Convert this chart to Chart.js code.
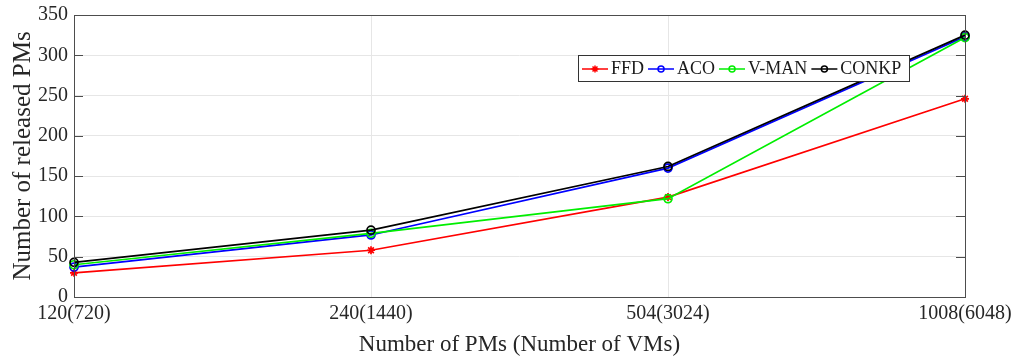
<!DOCTYPE html>
<html><head><meta charset="utf-8">
<script src="https://cdn.jsdelivr.net/npm/chart.js@4"></script>
<style>html,body{margin:0;padding:0;background:#fff;}#wrap{width:1018px;height:356px;}</style>
</head><body><div id="wrap"><canvas id="c" width="1018" height="356"></canvas></div>
<script>
const categories = ['120(720)', '240(1440)', '504(3024)', '1008(6048)'];
const ffd = [30, 58, 124, 246];
const aco = [37, 77, 160, 323];
const vman = [40, 79, 122, 322];
const conkp = [43, 83, 162, 325];
const yTicks = [0, 50, 100, 150, 200, 250, 300, 350];
const seriesNames = ['FFD', 'ACO', 'V-MAN', 'CONKP'];

const FONT = "'Liberation Serif', 'Times New Roman', serif";

const framePlugin = {
  id: 'frame',
  afterDatasetsDraw(chart) {
    const {ctx, chartArea: a} = chart;
    ctx.save();
    ctx.strokeStyle = '#4d4d4d';
    ctx.lineWidth = 1;
    ctx.strokeRect(Math.round(a.left) + 0.5, Math.round(a.top) + 0.5, Math.round(a.right - a.left), Math.round(a.bottom - a.top));
    const y = chart.scales.y;
    yTicks.forEach(v => {
      const py = Math.round(y.getPixelForValue(v)) + 0.5;
      ctx.beginPath();
      ctx.moveTo(a.left, py); ctx.lineTo(a.left + 9, py);
      ctx.moveTo(a.right, py); ctx.lineTo(a.right - 9, py);
      ctx.stroke();
    });
    // legend box
    const bx = 578, by = 55, bw = 331, bh = 26;
    ctx.fillStyle = '#fff';
    ctx.fillRect(bx, by, bw, bh);
    ctx.strokeStyle = '#333';
    ctx.strokeRect(bx + 0.5, by + 0.5, bw, bh);
    ctx.font = '18px ' + FONT;
    ctx.textBaseline = 'middle';
    let x = bx + 4;
    const cy = by + bh / 2 + 1;
    chart.data.datasets.forEach((ds, i) => {
      ctx.strokeStyle = ds.borderColor;
      ctx.lineWidth = 1.5;
      ctx.beginPath(); ctx.moveTo(x, cy); ctx.lineTo(x + 26, cy); ctx.stroke();
      const mx = x + 13;
      if (i === 0) {
        ctx.beginPath();
        for (let k = 0; k < 4; k++) {
          const ang = k * Math.PI / 4;
          ctx.moveTo(mx - 3.5 * Math.cos(ang), cy - 3.5 * Math.sin(ang));
          ctx.lineTo(mx + 3.5 * Math.cos(ang), cy + 3.5 * Math.sin(ang));
        }
        ctx.stroke();
      } else {
        ctx.beginPath(); ctx.arc(mx, cy, 3, 0, Math.PI * 2); ctx.stroke();
      }
      ctx.fillStyle = '#1a1a1a';
      ctx.fillText(ds.label, x + 29, cy);
      x += 29 + ctx.measureText(ds.label).width + 4;
    });
    ctx.restore();
  }
};

const colors = ['#ff0000', '#0000ff', '#00ee00', '#000000'];
const allData = [ffd, aco, vman, conkp];

new Chart(document.getElementById('c'), {
  type: 'line',
  data: {
    labels: categories,
    datasets: allData.map((d, i) => ({
      label: seriesNames[i],
      data: d,
      borderColor: colors[i],
      backgroundColor: i === 0 ? colors[i] : 'rgba(0,0,0,0)',
      borderWidth: 1.7,
      pointStyle: i === 0 ? 'star' : 'circle',
      pointRadius: 4,
      pointBorderWidth: 1.7,
      tension: 0,
      order: 4 - i
    }))
  },
  options: {
    responsive: false,
    animation: false,
    devicePixelRatio: 1,
    layout: {padding: {left: 0, right: 53, top: 15, bottom: 0}},
    plugins: {legend: {display: false}, tooltip: {enabled: false}},
    scales: {
      x: {
        type: 'category',
        offset: false,
        grid: {color: '#e6e6e6', drawTicks: false, lineWidth: 1},
        border: {display: false},
        ticks: {color: '#262626', font: {family: FONT, size: 20}, padding: 5, maxRotation: 0, autoSkip: false},
        title: {display: true, text: 'Number of PMs (Number of VMs)', color: '#262626', font: {family: FONT, size: 23, lineHeight: 1}, padding: {top: 0, bottom: 0}},
        afterFit(s) { s.height = 59; s.paddingLeft = 0; s.paddingRight = 0; }
      },
      y: {
        min: 0, max: 350,
        afterBuildTicks(s) { s.ticks = yTicks.map(v => ({value: v})); },
        grid: {color: '#e6e6e6', drawTicks: false, lineWidth: 1},
        border: {display: false},
        ticks: {color: '#262626', font: {family: FONT, size: 20}, padding: 6},
        title: {display: true, text: 'Number of released PMs', color: '#262626', font: {family: FONT, size: 25}, padding: {top: 8, bottom: 0}},
        afterFit(s) { s.width = 74; s.paddingTop = 0; s.paddingBottom = 0; }
      }
    }
  },
  plugins: [framePlugin]
});
</script></body></html>
